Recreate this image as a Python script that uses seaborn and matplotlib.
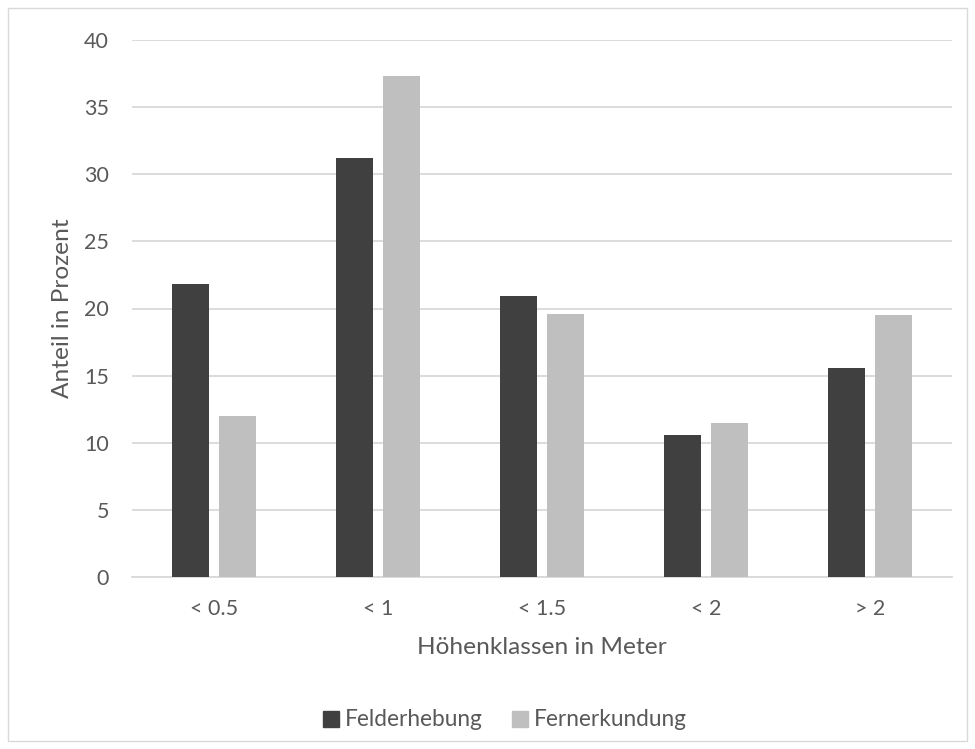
import matplotlib
matplotlib.use("Agg")
import matplotlib.pyplot as plt
import matplotlib.patches as mpatches
import seaborn as sns
import pandas as pd

categories = ["< 0.5", "< 1", "< 1.5", "< 2", "> 2"]
felderhebung = [21.8, 31.2, 20.9, 10.6, 15.6]
fernerkundung = [12.0, 37.3, 19.6, 11.5, 19.5]
series_names = ["Felderhebung", "Fernerkundung"]
colors = ["#404040", "#bfbfbf"]
y_ticks = [0, 5, 10, 15, 20, 25, 30, 35, 40]

df = pd.DataFrame({
    "Klasse": categories * 2,
    "Wert": felderhebung + fernerkundung,
    "Serie": [series_names[0]] * len(categories) + [series_names[1]] * len(categories),
})

sns.set_theme(style="white")
plt.rcParams["font.family"] = ["Lato", "DejaVu Sans"]
text_color = "#595959"
grid_color = "#d9d9d9"

fig = plt.figure(figsize=(9.75, 7.49), dpi=100)
ax = fig.add_axes([132 / 975, 1 - 577 / 749, 820 / 975, 537 / 749])

sns.barplot(data=df, x="Klasse", y="Wert", hue="Serie", order=categories,
            hue_order=series_names, palette=colors, width=0.573, gap=0.21,
            saturation=1, edgecolor="none", legend=False, ax=ax, zorder=3)

ax.set_ylim(0, 40)
ax.set_xlim(-0.5, len(categories) - 0.5)
ax.set_yticks(y_ticks)
ax.yaxis.grid(True, color=grid_color, linewidth=1.3, zorder=0)
ax.set_axisbelow(True)
for side in ["top", "right", "left"]:
    ax.spines[side].set_visible(False)
ax.spines["bottom"].set_color(grid_color)
ax.spines["bottom"].set_linewidth(1.3)
ax.tick_params(axis="both", length=0, labelsize=15.5, colors=text_color)
ax.tick_params(axis="x", pad=16)
ax.tick_params(axis="y", pad=16.5)

ax.set_xlabel("Höhenklassen in Meter", fontsize=17.6, color=text_color, labelpad=13)
ax.set_ylabel("Anteil in Prozent", fontsize=17.6, color=text_color, labelpad=8)

handles = [mpatches.Patch(color=c, label=n) for c, n in zip(colors, series_names)]
fig.legend(handles=handles, loc="center", bbox_to_anchor=(505 / 975, 1 - 720 / 749),
           ncol=2, frameon=False, fontsize=16.3, labelcolor=text_color,
           handlelength=0.7, handleheight=0.7, handletextpad=0.25, columnspacing=1.33)

border = mpatches.Rectangle((8 / 975, 8 / 749), 1 - 16 / 975, 1 - 16 / 749,
                            transform=fig.transFigure, fill=False,
                            edgecolor=grid_color, linewidth=1)
fig.patches.append(border)

fig.savefig("out.png", dpi=100)
